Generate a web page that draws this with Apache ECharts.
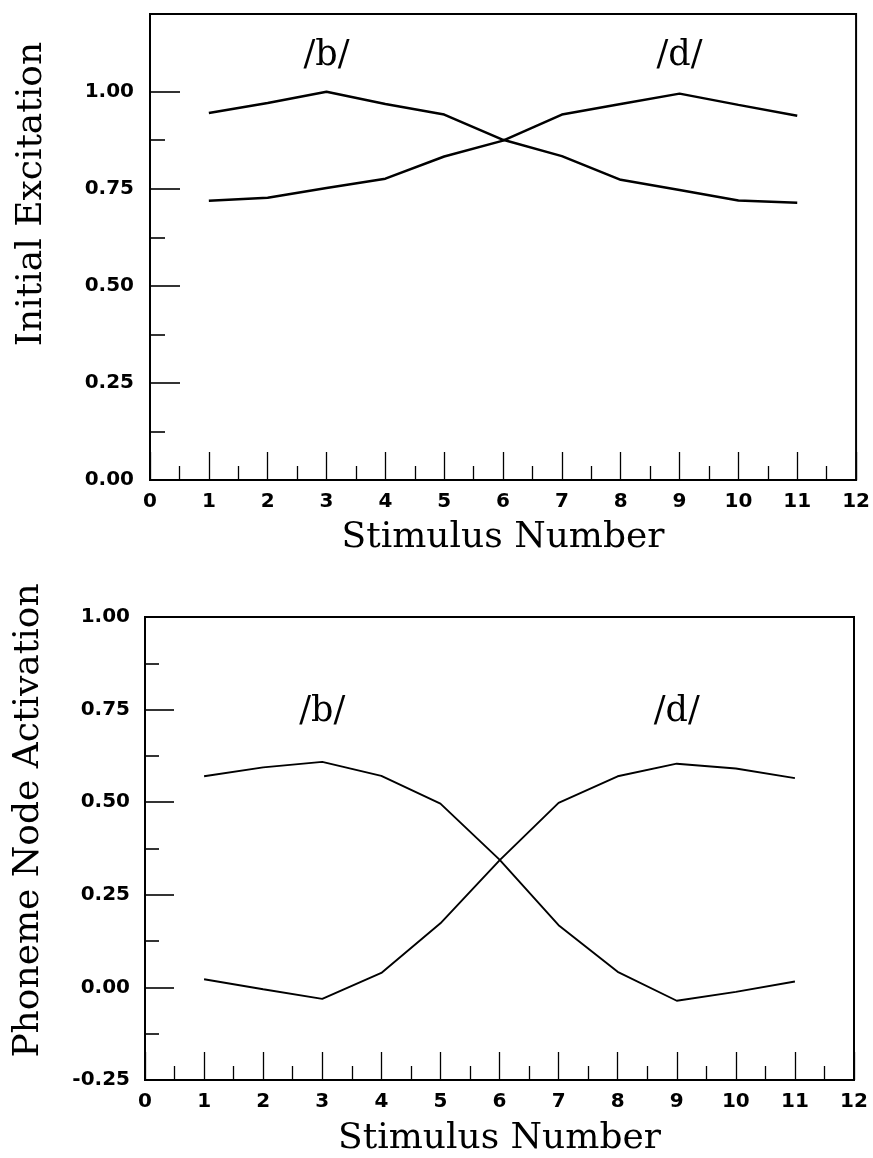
<!DOCTYPE html>
<html>
<head>
<meta charset="utf-8">
<script src="https://cdn.jsdelivr.net/npm/echarts@6/dist/echarts.min.js"></script>
<style>
  html, body { margin: 0; padding: 0; background: #fff; }
  #chart { width: 873px; height: 1158px; }
</style>
</head>
<body>
<div id="chart"></div>
<script>
// stimulus numbers along the continuum
var stimulus = [1, 2, 3, 4, 5, 6, 7, 8, 9, 10, 11];

// top panel: initial excitation
var exciteB = [0.945, 0.971, 1.000, 0.968, 0.941, 0.876, 0.834, 0.773, 0.747, 0.720, 0.714];
var exciteD = [0.719, 0.727, 0.752, 0.776, 0.833, 0.874, 0.941, 0.968, 0.995, 0.966, 0.938];

// bottom panel: phoneme node activation
var activB = [0.570, 0.594, 0.609, 0.571, 0.496, 0.345, 0.168, 0.042, -0.036, -0.012, 0.016];
var activD = [0.022, -0.005, -0.031, 0.039, 0.173, 0.343, 0.498, 0.570, 0.604, 0.591, 0.565];

// phoneme labels
var phonemeNames = ['/b/', '/d/'];
var phonemeX = [3, 9];
var phonemeYTop = [1.093, 1.093];
var phonemeYBottom = [0.745, 0.745];

// tick values for the top y axis
var topMajorTicks = [0, 0.25, 0.5, 0.75, 1.0];
var topMinorTicks = [0.125, 0.375, 0.625, 0.875];

function pairs(xs, ys) {
  return xs.map(function (x, i) { return [x, ys[i]]; });
}
function labelPoints(ys) {
  return phonemeNames.map(function (n, i) { return { name: n, value: [phonemeX[i], ys[i]] }; });
}

var tickFont = { color: '#000', fontFamily: 'DejaVu Sans', fontWeight: 'bold', fontSize: 20 };
var titleFont = { color: '#000', fontFamily: 'DejaVu Serif', fontSize: 36 };
var phonemeFont = { show: true, position: 'inside', formatter: '{b}', color: '#000',
  textBorderWidth: 0, fontFamily: 'DejaVu Serif', fontSize: 35 };

function xAxisFor(grid, gap) {
  return {
    type: 'value', gridIndex: grid, min: 0, max: 12, interval: 1,
    axisLine: { onZero: false, lineStyle: { color: '#000', width: 2 } },
    axisTick: { inside: true, length: 28, lineStyle: { color: '#000', width: 1.3 } },
    minorTick: { show: true, splitNumber: 2, length: 14, lineStyle: { color: '#000', width: 1.3 } },
    splitLine: { show: false },
    axisLabel: Object.assign({ margin: 12, showMinLabel: true, showMaxLabel: true }, tickFont),
    name: 'Stimulus Number', nameLocation: 'middle', nameGap: gap,
    nameTextStyle: titleFont
  };
}

var chart = echarts.init(document.getElementById('chart'), null, { renderer: 'canvas' });
chart.setOption({
  animation: false,
  backgroundColor: '#fff',
  grid: [
    { left: 150, right: 16, top: 14, height: 466, show: true, borderColor: '#000', borderWidth: 2 },
    { left: 145, right: 19, top: 617, height: 463, show: true, borderColor: '#000', borderWidth: 2 }
  ],
  xAxis: [xAxisFor(0, 40), xAxisFor(1, 41)],
  yAxis: [
    {
      type: 'value', gridIndex: 0, min: 0, max: 1.2, position: 'left',
      axisLine: { onZero: false, lineStyle: { color: '#000', width: 2 } },
      axisTick: { inside: true, length: 30, customValues: topMajorTicks, lineStyle: { color: '#000', width: 1.6 } },
      splitLine: { show: false },
      axisLabel: Object.assign({ margin: 16, customValues: topMajorTicks,
        formatter: function (v) { return v.toFixed(2); } }, tickFont),
      name: 'Initial Excitation', nameLocation: 'middle', nameGap: 100,
      nameTextStyle: Object.assign({ padding: [0, 0, 0, 106] }, titleFont)
    },
    {
      type: 'value', gridIndex: 0, min: 0, max: 1.2, position: 'left', offset: 0,
      axisLine: { show: false },
      axisTick: { inside: true, length: 15, customValues: topMinorTicks, lineStyle: { color: '#000', width: 1.6 } },
      axisLabel: { show: false },
      splitLine: { show: false }
    },
    {
      type: 'value', gridIndex: 1, min: -0.25, max: 1.0, interval: 0.25, position: 'left',
      axisLine: { onZero: false, lineStyle: { color: '#000', width: 2 } },
      axisTick: { inside: true, length: 29, lineStyle: { color: '#000', width: 1.6 } },
      minorTick: { show: true, splitNumber: 2, length: 14, lineStyle: { color: '#000', width: 1.6 } },
      splitLine: { show: false },
      axisLabel: Object.assign({ margin: 15,
        formatter: function (v) { return v.toFixed(2); } }, tickFont),
      name: 'Phoneme Node Activation', nameLocation: 'middle', nameGap: 98,
      nameTextStyle: Object.assign({ padding: [0, 0, 0, 56] }, titleFont)
    }
  ],
  series: [
    { type: 'line', xAxisIndex: 0, yAxisIndex: 0, data: pairs(stimulus, exciteB), symbol: 'none',
      lineStyle: { color: '#000', width: 2.5 } },
    { type: 'line', xAxisIndex: 0, yAxisIndex: 0, data: pairs(stimulus, exciteD), symbol: 'none',
      lineStyle: { color: '#000', width: 2.5 } },
    { type: 'line', xAxisIndex: 1, yAxisIndex: 2, data: pairs(stimulus, activB), symbol: 'none',
      lineStyle: { color: '#000', width: 1.9 } },
    { type: 'line', xAxisIndex: 1, yAxisIndex: 2, data: pairs(stimulus, activD), symbol: 'none',
      lineStyle: { color: '#000', width: 1.9 } },
    { type: 'scatter', xAxisIndex: 0, yAxisIndex: 0, data: labelPoints(phonemeYTop), symbolSize: 0,
      itemStyle: { opacity: 1 }, label: phonemeFont },
    { type: 'scatter', xAxisIndex: 1, yAxisIndex: 2, data: labelPoints(phonemeYBottom), symbolSize: 0,
      itemStyle: { opacity: 1 }, label: phonemeFont }
  ]
});
</script>
</body>
</html>
